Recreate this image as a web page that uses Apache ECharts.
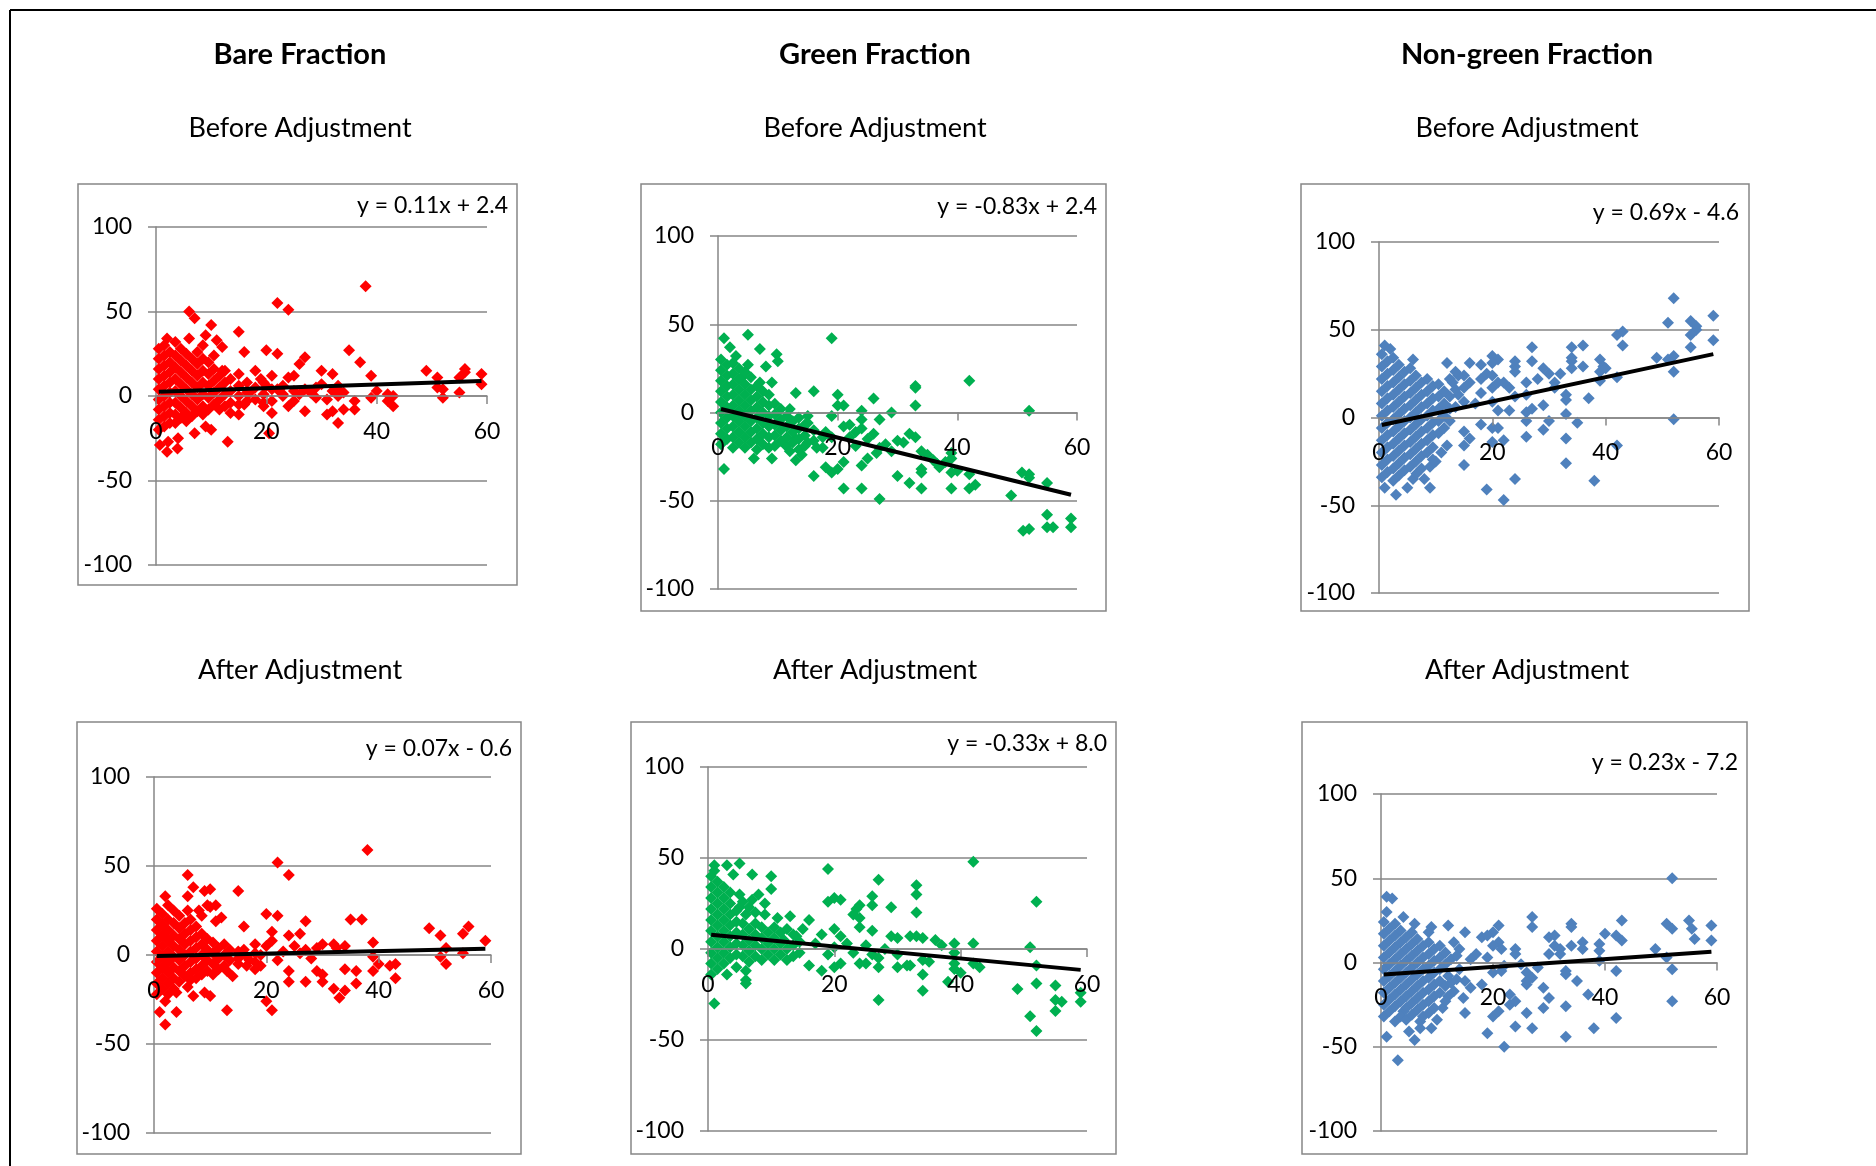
<!DOCTYPE html>
<html>
<head>
<meta charset="utf-8">
<script src="https://cdn.jsdelivr.net/npm/echarts@6/dist/echarts.min.js"></script>
<style>
  html, body { margin: 0; padding: 0; background: #fff; }
  #main { width: 1876px; height: 1166px; }
</style>
</head>
<body>
<div id="main"></div>
<script>
// column / row headings
const columnTitles = ['Bare Fraction', 'Green Fraction', 'Non-green Fraction'];
const rowTitles = ['Before Adjustment', 'After Adjustment'];

// axis ticks
const xTicks = [0, 20, 40, 60];
const yTicks = [-100, -50, 0, 50, 100];

// trendline coefficients
const slopes = [0.11, -0.83, 0.69, 0.07, -0.33, 0.23];
const intercepts = [2.4, 2.4, -4.6, -0.6, 8.0, -7.2];
const equations = ['y = 0.11x + 2.4', 'y = -0.83x + 2.4', 'y = 0.69x - 4.6',
                   'y = 0.07x - 0.6', 'y = -0.33x + 8.0', 'y = 0.23x - 7.2'];

// scatter points [x, y]
const bareBefore = [
  [38,65],[22,55],[24,51],[6,50],[7,46],[10,42],[15,38],[2,34],[6,34],[9,36],[11,33],[12,29],[16,26],[20,27],[22,25],
  [35,27],[37,20],[27,23],[26,19],[18,15],[30,15],[32,13],[49,15],[51,11],[55,11],[56,16],[56,14],[59,13],[59,7],[39,12],
  [24,11],[25,12],[21,12],[12,15],[15,13],[52,4],[52,-1],[55,2],[51,5],[39,-1],[40,3],[42,1],[43,-6],[42,-3],[43,0],
  [36,-3],[36,-8],[34,-8],[33,-16],[32,-9],[31,-11],[27,-9],[24,-6],[21,-10],[20.5,-22],[13,-27],[7,-22],[9,-18],[10,-20],
  [0.7,-29],[2,-33],[2.2,-27],[3.9,-31],[4,-25],[15,-11],[29,-1],[31,-2],[29,5],[30,7],[33,6],[34,2],[27,4],[26,1],
  [19.5,-4],[22,4],[23,1],[28,2],[32,3],[20,6],[19,10],[17,2],[18,-2],[16,-5],
  [0.5,28],[0.5,22],[0.5,16],[0.5,10],[0.5,4],[0.5,-2],[0.5,-8],[0.5,-14],[0.5,-20],
  [1.5,30],[1.5,24],[1.5,18],[1.5,12],[1.5,6],[1.5,0],[1.5,-6],[1.5,-12],[1.5,-18],
  [2.5,26],[2.5,20],[2.5,14],[2.5,8],[2.5,2],[2.5,-4],[2.5,-10],[2.5,-16],
  [3.5,32],[3.5,24],[3.5,17],[3.5,10],[3.5,3],[3.5,-4],[3.5,-11],[3.5,-16],
  [4.5,28],[4.5,21],[4.5,14],[4.5,7],[4.5,0],[4.5,-7],[4.5,-13],
  [5.5,25],[5.5,18],[5.5,11],[5.5,4],[5.5,-3],[5.5,-10],[5.5,-15],
  [6.5,22],[6.5,15],[6.5,8],[6.5,1],[6.5,-6],[6.5,-12],
  [7.5,26],[7.5,19],[7.5,12],[7.5,5],[7.5,-2],[7.5,-9],
  [8.5,30],[8.5,22],[8.5,15],[8.5,8],[8.5,1],[8.5,-6],[8.5,-11],
  [9.5,20],[9.5,13],[9.5,6],[9.5,-1],[9.5,-8],
  [10.5,24],[10.5,16],[10.5,9],[10.5,2],[10.5,-5],
  [11.5,12],[11.5,5],[11.5,-2],[11.5,-8],
  [12.5,15],[12.5,8],[12.5,1],[12.5,-6],
  [13.5,10],[13.5,3],[13.5,-4],[13.5,-10],
  [15,6],[15,0],[15,-5],[16.5,8],[16.5,2],[16.5,-3],
  [18,5],[19.5,8],[19.5,1],[19.5,-6],[21,4],[21,-3],[23,6],[23,0],[25,3],[25,-3],[33,4],[33,0]
];

const greenBefore = [
  [1,42],[5,44],[19,42],[7,36],[9.8,33],[10,29],[2,37],[3,32],[5,27],[8,26],[4,20],[7,17],[9,17],[42,18],[33,15],
  [33,14],[16,12],[13,11],[20,10],[21,4],[20,4],[26,8],[33,4],[52,1],[29,0],[24,1],[12,2],[27,-4],[24,-4],[15,-2],
  [15,-6],[19,-2],[32,-12],[33,-14],[30,-16],[31,-17],[34,-22],[35,-24],[36.6,-29],[39,-26],[39,-23],[34,-32],[34,-34],
  [37,-31],[40,-33],[39,-34],[42,-35],[30,-36],[32,-40],[34,-43],[39,-43],[42,-43],[43,-41],[49,-47],[27,-49],[16,-36],
  [21,-43],[24,-43],[50.8,-34],[52,-35],[52,-37],[55,-40],[55,-58],[55,-65],[56,-65],[51,-67],[52,-66],[59,-60],[59,-65],
  [1,-32],[6,-26],[9,-26],[13,-27],[14,-24],[18,-31],[19,-34],[20,-32],[21,-28],[24,-30],[25,-26],[26.5,-23],[27,-20],
  [29,-22],[18,-11],[19,-14],[21,-8],[22,-7],[23,-11],[24,-9],[25,-15],[16.5,-20],[15,-17],[11.4,-19],[12,-22],[13,-15],
  [26,-12],[28,-18],[22,-14],[23,-19],[36,-27],[38,-28],
  [0.5,30],[0.5,24],[0.5,18],[0.5,12],[0.5,6],[0.5,0],[0.5,-6],[0.5,-12],[0.5,-18],
  [1.5,27],[1.5,21],[1.5,15],[1.5,9],[1.5,3],[1.5,-3],[1.5,-9],[1.5,-15],
  [2.5,28],[2.5,22],[2.5,16],[2.5,10],[2.5,4],[2.5,-2],[2.5,-8],[2.5,-14],[2.5,-20],
  [3.5,25],[3.5,19],[3.5,13],[3.5,7],[3.5,1],[3.5,-5],[3.5,-11],[3.5,-17],
  [4.5,23],[4.5,16],[4.5,10],[4.5,4],[4.5,-2],[4.5,-8],[4.5,-14],[4.5,-20],
  [5.5,20],[5.5,13],[5.5,7],[5.5,1],[5.5,-5],[5.5,-11],[5.5,-17],
  [6.5,15],[6.5,9],[6.5,3],[6.5,-3],[6.5,-9],[6.5,-15],[6.5,-21],
  [7.5,12],[7.5,6],[7.5,0],[7.5,-6],[7.5,-12],[7.5,-18],
  [8.5,10],[8.5,4],[8.5,-2],[8.5,-8],[8.5,-14],[8.5,-20],
  [9.5,5],[9.5,-1],[9.5,-7],[9.5,-13],[9.5,-19],
  [10.5,2],[10.5,-4],[10.5,-10],[10.5,-16],
  [11.5,-2],[11.5,-8],[11.5,-14],
  [12.5,-5],[12.5,-11],[12.5,-17],
  [13.5,-3],[13.5,-9],[13.5,-15],[13.5,-21],
  [14.5,-7],[14.5,-13],[14.5,-19],
  [16,-10],[16,-16],[17.5,-14],[17.5,-20]
];

const nongreenBefore = [
  [52,68],[59,58],[59,44],[51,54],[55,55],[56,50],[55,47],[56,52],[55,40],[49,34],[52,35],[51,33],[52,26],[52,-1],
  [42,47],[43,49],[43,41],[42,23],[42,-16],[39,33],[39.6,29],[39,26],[40,28],[39,21],[34,40],[36,41],[34,34],[34,32],
  [34,28],[36,29],[37,11],[35,-3],[33,-12],[33,-26],[38,-36],[32,25],[30,25],[31,20],[31,17],[33,13],[33,10],[33,2],
  [29,7],[30,-2],[29,-7],[27,40],[27,32],[26,20],[26,13],[26,3],[26,-2],[26,-11],[27,5],[24,32],[24,29],[24,26],
  [23,17],[24,12],[23,4],[24,-35],[22,-47],[19,-41],[20,35],[21,33],[20,31],[18,30],[18,22],[19,25],[20,24],[21,20],
  [20,17],[18,14],[20,9],[21,4],[18,-4],[20,-6],[21,-6],[22,-13],[20,-14],[15,-27],[16,31],[15,24],[16,20],[14,24],
  [15,17],[14,13],[15,9],[12,31],[12.5,5],[15,-8],[16,-12],[15,-16],[12,-16],[11,-20],[10,-25],[9,-28],[9,-40],[8,-35],
  [5,-40],[3,-44],[1,-40],[6,-35],[6.6,-32],[1,41],[2,39],[6,33],[28,22],[29,28],[22,20],[17,8],[13,20],
  [0.5,36],[0.5,29],[0.5,22],[0.5,15],[0.5,8],[0.5,1],[0.5,-6],[0.5,-13],[0.5,-20],[0.5,-27],[0.5,-34],
  [1.5,32],[1.5,25],[1.5,18],[1.5,11],[1.5,4],[1.5,-3],[1.5,-10],[1.5,-17],[1.5,-24],[1.5,-31],
  [2.5,34],[2.5,27],[2.5,20],[2.5,13],[2.5,6],[2.5,-1],[2.5,-8],[2.5,-15],[2.5,-22],[2.5,-29],[2.5,-36],
  [3.5,30],[3.5,23],[3.5,16],[3.5,9],[3.5,2],[3.5,-5],[3.5,-12],[3.5,-19],[3.5,-26],[3.5,-33],
  [4.5,26],[4.5,19],[4.5,12],[4.5,5],[4.5,-2],[4.5,-9],[4.5,-16],[4.5,-23],[4.5,-30],
  [5.5,28],[5.5,21],[5.5,14],[5.5,7],[5.5,0],[5.5,-7],[5.5,-14],[5.5,-21],[5.5,-28],
  [6.5,24],[6.5,17],[6.5,10],[6.5,3],[6.5,-4],[6.5,-11],[6.5,-18],[6.5,-25],
  [7.5,20],[7.5,13],[7.5,6],[7.5,-1],[7.5,-8],[7.5,-15],[7.5,-22],[7.5,-29],
  [8.5,22],[8.5,15],[8.5,8],[8.5,1],[8.5,-6],[8.5,-13],[8.5,-20],
  [9.5,18],[9.5,11],[9.5,4],[9.5,-3],[9.5,-10],[9.5,-17],[9.5,-24],
  [10.5,19],[10.5,12],[10.5,5],[10.5,-2],[10.5,-9],
  [11.5,15],[11.5,8],[11.5,1],[11.5,-6],
  [12.5,22],[12.5,12],[12.5,-2],
  [13.5,26],[13.5,16],[13.5,6]
];

const bareAfter = [
  [38,59],[22,52],[24,45],[6,45],[7,38],[2,33],[6,33],[9,36],[10,37],[15,36],[6,25],[8,25],[10,27],[11,28],[11,19],
  [12,21],[16,16],[20,23],[22,22],[21,13],[24,11],[26,12],[27,19],[35,20],[37,20],[39,7],[49,15],[51,11],[55,12],
  [56,16],[59,8],[55,1],[51,-1],[52,-5],[52,4],[39,-1],[40,-5],[39,-9],[42,-6],[43,-5],[43,-13],[36,-9],[36,-16],
  [34,-8],[34,-20],[33,-24],[32,-19],[30,-15],[29,-9],[30,-11],[27,-15],[24,-15],[24,-9],[21,-31],[20,-26],[13,-31],
  [10,-23],[9,-21],[7,-23],[6,-18],[2,-39],[1,-32],[4,-32],[2,-26],[4,-21],[18,-8],[19,-6],[29,4],[30,6],[32,6],
  [32.5,4],[34,5],[26,1],[27,3],[23,2],[22,-3],[20,5],[19,0],[17,-3],[28,-2],[25,5],[21,8],[18,6],[16,3],[15,-5],
  [14,-12],[13,-9],
  [0.5,26],[0.5,20],[0.5,14],[0.5,8],[0.5,2],[0.5,-4],[0.5,-10],[0.5,-16],[0.5,-22],
  [1.5,23],[1.5,17],[1.5,11],[1.5,5],[1.5,-1],[1.5,-7],[1.5,-13],[1.5,-19],
  [2.5,28],[2.5,20],[2.5,14],[2.5,8],[2.5,2],[2.5,-4],[2.5,-10],[2.5,-16],[2.5,-22],
  [3.5,25],[3.5,18],[3.5,11],[3.5,5],[3.5,-1],[3.5,-7],[3.5,-13],[3.5,-19],
  [4.5,22],[4.5,15],[4.5,9],[4.5,3],[4.5,-3],[4.5,-9],[4.5,-15],
  [5.5,18],[5.5,12],[5.5,6],[5.5,0],[5.5,-6],[5.5,-12],
  [6.5,20],[6.5,14],[6.5,8],[6.5,2],[6.5,-4],[6.5,-10],[6.5,-14],
  [7.5,16],[7.5,10],[7.5,4],[7.5,-2],[7.5,-8],[7.5,-13],
  [8.5,22],[8.5,12],[8.5,6],[8.5,0],[8.5,-6],[8.5,-11],
  [9.5,28],[9.5,9],[9.5,3],[9.5,-3],[9.5,-9],
  [10.5,7],[10.5,1],[10.5,-5],[10.5,-11],
  [11.5,4],[11.5,-2],[11.5,-8],
  [12.5,6],[12.5,0],[12.5,-6],
  [13.5,3],[13.5,-3],
  [15,2],[15,-2],[16.5,-1],[16.5,-6],[18,1],[18,-4]
];

const greenAfter = [
  [42,48],[19,44],[5,47],[3,46],[1,46],[1,43],[4,41],[7,41],[10,40],[10,33],[27,38],[33,35],[33,30],[33,20],[52,26],
  [29,23],[26,29],[26,24],[24,24],[23.5,22],[23,19],[24,17],[24,12],[26,10],[19,26],[20,28],[21,27],[5,30],[5,23],
  [7,27],[6,19],[8,30],[9,25],[11,17],[13,18],[16,16],[9,19],[20,11],[21,7],[18,8],[29,7],[30,6],[32,7],[33,7],[34,6],
  [36,5],[37,2],[39,3],[42,3],[51,1],[34,-6],[35,-7],[39,-2],[39,-8],[39,-11],[40,-13],[42,-8],[43,-10],[30,-3],
  [30,-10],[31.5,-9],[32,-9],[27,-5],[27,-10],[24,-8],[25,-8],[34,-14],[34,-23],[38,-18],[27,-28],[49,-22],[52,-9],
  [52,-19],[55,-20],[55,-28],[56,-29],[55,-34],[59,-24],[59,-29],[51,-37],[52,-45],[1,-30],[3,-14],[6,-17],[6,-19],
  [6,-12],[4.5,-10],[16,-9],[18,-12],[20,-10],[21,-8],[22,3],[23,-2],[25,2],[26,-3],[28,0],[17,3],[19,-3],[20,1],
  [14,7],[15,11],[12,5],
  [0.5,40],[0.5,34],[0.5,28],[0.5,22],[0.5,16],[0.5,10],[0.5,4],[0.5,-2],[0.5,-8],[0.5,-14],
  [1.5,37],[1.5,31],[1.5,25],[1.5,19],[1.5,13],[1.5,7],[1.5,1],[1.5,-5],[1.5,-11],
  [2.5,34],[2.5,28],[2.5,22],[2.5,16],[2.5,10],[2.5,4],[2.5,-2],[2.5,-8],
  [3.5,31],[3.5,25],[3.5,19],[3.5,13],[3.5,7],[3.5,1],[3.5,-5],
  [4.5,21],[4.5,15],[4.5,9],[4.5,3],[4.5,-3],
  [5.5,26],[5.5,14],[5.5,8],[5.5,2],[5.5,-4],
  [6.5,23],[6.5,11],[6.5,5],[6.5,-1],[6.5,-7],
  [7.5,20],[7.5,14],[7.5,8],[7.5,2],[7.5,-4],
  [8.5,12],[8.5,6],[8.5,0],[8.5,-6],
  [9.5,9],[9.5,3],[9.5,-3],
  [10.5,12],[10.5,6],[10.5,0],[10.5,-6],
  [11.5,9],[11.5,3],[11.5,-3],
  [12.5,11],[12.5,0],[12.5,-6],
  [13.5,8],[13.5,2],[13.5,-4],
  [14.5,4],[14.5,-2]
];

const nongreenAfter = [
  [52,50],[1,39],[2,38],[1,30],[4,27],[6,23],[12,22],[9,21],[8.5,18],[15,18],[18,15],[21,22],[20,18],[19,16],[21,12],
  [20,10],[21.5,8],[27,27],[27,21],[24,8],[24,5],[30,15],[31,16],[31,10],[30,5],[32,8],[32,5],[34,23],[34,21],[34,10],
  [36,12],[36,8],[39,11],[39,7],[39,1],[40,17],[42,16],[43,13],[43,25],[49,8],[51,23],[52,20],[51,3],[52,-4],[52,-23],
  [55,25],[55.5,20],[56,14],[59,22],[59,13],[42,-5],[42,-33],[38,-39],[37,-19],[35,-11],[33,-5],[33,-7],[33,-26],
  [33,-44],[29,-15],[29,-27],[30,-21],[26,-6],[27,-9],[26,-13],[26,-11],[26,-30],[27,-39],[24,-38],[22,-50],[19,-42],
  [20,-32],[21,-29],[23,-25],[24,-23],[23,-19],[20,-6],[21.5,-5],[18,-13],[15,-30],[14.7,-21],[16,-15],[15,-11],
  [3,-58],[1,-44],[5,-41],[6,-46],[9,-39],[10,-34],[7,-39],[7,-35],[11,-27],[12,-20],[13,-17],[2.5,-35],[4,-29],
  [17,5],[14,8],[16,2],[13,12],[22,-2],[25,-1],[28,-3],[19,3],[12,-8],[14,-4],
  [0.5,24],[0.5,17],[0.5,10],[0.5,3],[0.5,-4],[0.5,-11],[0.5,-18],[0.5,-25],[0.5,-32],
  [1.5,20],[1.5,13],[1.5,6],[1.5,-1],[1.5,-8],[1.5,-15],[1.5,-22],[1.5,-29],
  [2.5,23],[2.5,16],[2.5,9],[2.5,2],[2.5,-5],[2.5,-12],[2.5,-19],[2.5,-26],
  [3.5,19],[3.5,12],[3.5,5],[3.5,-2],[3.5,-9],[3.5,-16],[3.5,-23],[3.5,-32],
  [4.5,15],[4.5,8],[4.5,1],[4.5,-6],[4.5,-13],[4.5,-20],[4.5,-27],[4.5,-34],
  [5.5,18],[5.5,11],[5.5,4],[5.5,-3],[5.5,-10],[5.5,-17],[5.5,-24],[5.5,-31],
  [6.5,14],[6.5,7],[6.5,0],[6.5,-7],[6.5,-14],[6.5,-21],[6.5,-28],
  [7.5,10],[7.5,3],[7.5,-4],[7.5,-11],[7.5,-18],[7.5,-25],[7.5,-32],
  [8.5,12],[8.5,5],[8.5,-2],[8.5,-9],[8.5,-16],[8.5,-23],[8.5,-30],
  [9.5,8],[9.5,1],[9.5,-6],[9.5,-13],[9.5,-20],[9.5,-27],
  [10.5,10],[10.5,3],[10.5,-4],[10.5,-11],[10.5,-18],
  [11.5,6],[11.5,-1],[11.5,-14],[11.5,-23],
  [12.5,2],[12.5,-12],
  [13.5,4],[13.5,-10]
];

const panelData = [bareBefore, greenBefore, nongreenBefore, bareAfter, greenAfter, nongreenAfter];

// ---- layout (pixels) ----
const colors = ['#ff0000', '#00b050', '#4f81bd', '#ff0000', '#00b050', '#4f81bd'];
const plots = [   // left, top, width, height of each plot area
  [156, 227, 331, 338], [718, 236, 359, 353], [1379, 242, 340, 351],
  [154, 777, 337, 356], [708, 767, 379, 364], [1381, 794, 336, 337]
];
const boxes = [   // chart area frames
  [78, 184, 439, 401], [641, 184, 465, 427], [1301, 184, 448, 427],
  [77, 722, 444, 432], [631, 722, 485, 432], [1302, 722, 445, 432]
];
const eqPos = [[508, 206], [1097, 207], [1739, 213], [512, 749], [1107, 744], [1738, 763]];
const colCenters = [300, 875, 1527];

const font = 'Lato, "Open Sans", sans-serif';
const grey = '#868686';

let grids = [], xAxes = [], yAxes = [], series = [], graphics = [];

panelData.forEach((pts, i) => {
  const p = plots[i];
  grids.push({ left: p[0], top: p[1], width: p[2], height: p[3] });
  // x axis crosses at y = 0, i.e. the middle of the -100..100 range
  xAxes.push({
    type: 'value', gridIndex: i, min: xTicks[0], max: xTicks[xTicks.length - 1], interval: 20,
    position: 'bottom', offset: -p[3] / 2, z: 5,
    axisLine: { show: true, onZero: false, lineStyle: { color: grey, width: 1.5 } },
    axisTick: { show: true, length: 8, lineStyle: { color: grey, width: 1.5 } },
    axisLabel: { color: '#000', fontSize: 23, fontFamily: font, margin: 24 },
    splitLine: { show: false }
  });
  yAxes.push({
    type: 'value', gridIndex: i, min: yTicks[0], max: yTicks[yTicks.length - 1], interval: 50,
    axisLine: { show: true, onZero: false, lineStyle: { color: grey, width: 1.5 } },
    axisTick: { show: true, length: 8, lineStyle: { color: grey, width: 1.5 } },
    axisLabel: { color: '#000', fontSize: 23, fontFamily: font, margin: 24 },
    splitLine: { show: true, lineStyle: { color: grey, width: 1.5 } }
  });
  series.push({
    type: 'scatter', xAxisIndex: i, yAxisIndex: i, data: pts,
    symbol: 'diamond', symbolSize: 12,
    itemStyle: { color: colors[i], opacity: 1 }, z: 3
  });
  // linear trendline over the data's x range
  const xs = pts.map(d => d[0]);
  const x0 = Math.min(...xs), x1 = Math.max(...xs);
  series.push({
    type: 'line', xAxisIndex: i, yAxisIndex: i, showSymbol: false, symbol: 'none',
    data: [[x0, slopes[i] * x0 + intercepts[i]], [x1, slopes[i] * x1 + intercepts[i]]],
    lineStyle: { color: '#000', width: 4 }, z: 6
  });
  const b = boxes[i];
  graphics.push({
    type: 'rect', shape: { x: b[0], y: b[1], width: b[2], height: b[3] },
    style: { fill: 'none', stroke: grey, lineWidth: 1.5 }, z: -1
  });
  graphics.push({
    type: 'text', x: eqPos[i][0], y: eqPos[i][1],
    style: { text: equations[i], font: '23px ' + font, fill: '#000', textAlign: 'right', textVerticalAlign: 'middle' }
  });
});

columnTitles.forEach((t, c) => {
  graphics.push({ type: 'text', x: colCenters[c], y: 55,
    style: { text: t, font: 'bold 29px ' + font, fill: '#000', textAlign: 'center', textVerticalAlign: 'middle' } });
  graphics.push({ type: 'text', x: colCenters[c], y: 128,
    style: { text: rowTitles[0], font: '27px ' + font, fill: '#000', textAlign: 'center', textVerticalAlign: 'middle' } });
  graphics.push({ type: 'text', x: colCenters[c], y: 670,
    style: { text: rowTitles[1], font: '27px ' + font, fill: '#000', textAlign: 'center', textVerticalAlign: 'middle' } });
});

// outer frame (top and left edges visible)
graphics.push({ type: 'line', shape: { x1: 10, y1: 10, x2: 1876, y2: 10 }, style: { stroke: '#000', lineWidth: 2 } });
graphics.push({ type: 'line', shape: { x1: 10, y1: 10, x2: 10, y2: 1166 }, style: { stroke: '#000', lineWidth: 2 } });

const chart = echarts.init(document.getElementById('main'));
chart.setOption({
  animation: false,
  backgroundColor: '#fff',
  grid: grids,
  xAxis: xAxes,
  yAxis: yAxes,
  series: series,
  graphic: graphics
});
</script>
</body>
</html>
